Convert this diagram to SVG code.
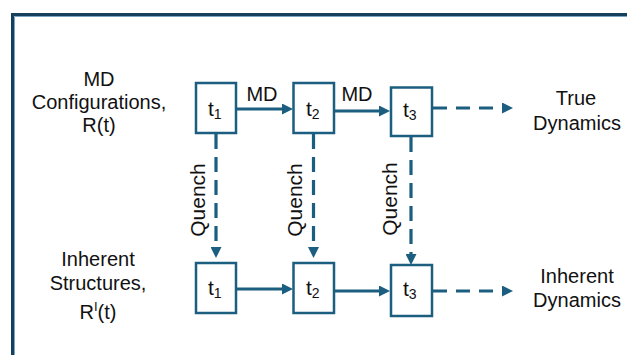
<svg xmlns="http://www.w3.org/2000/svg" width="627" height="355" viewBox="0 0 627 355">
<style>
text{font-family:"Liberation Sans",Arial,sans-serif;fill:#111;font-size:20px}
.lbl{text-anchor:middle}
.q{font-size:21px}
.box rect{fill:#fff;stroke:#1b5e7f;stroke-width:2.5}
.box text{font-size:21px}
.sub{font-size:13px}
.box .sub{font-size:14px}
.ln{stroke:#1b5e7f;stroke-width:3.2;fill:none}
.dash{stroke-dasharray:14 9}
.vdash{stroke-dasharray:15 8}
</style>
<defs>
<marker id="ah" markerUnits="userSpaceOnUse" markerWidth="11" markerHeight="11" refX="1" refY="5.5" orient="auto">
<path d="M0,0 L11,5.5 L0,11 z" fill="#1b5e7f"/>
</marker>
</defs>
<g id="frame">
<path d="M12.5,355 V14.5 H627" fill="none" stroke="#15405c" stroke-width="3"/>
<path d="M14.5,355 V16.5 H627" fill="none" stroke="#7aa6c2" stroke-width="1"/>
</g>
<g id="row-labels">
<text class="lbl" x="99" y="86">MD</text>
<text class="lbl" x="99" y="109">Configurations,</text>
<text class="lbl" x="99" y="132">R(t)</text>
<text class="lbl" x="98" y="266">Inherent</text>
<text class="lbl" x="98" y="290">Structures,</text>
<text class="lbl" x="98" y="319">R<tspan class="sub" dy="-8">I</tspan><tspan dy="8">(t)</tspan></text>
<text class="lbl" x="576" y="105">True</text>
<text class="lbl" x="577" y="130">Dynamics</text>
<text class="lbl" x="577" y="283">Inherent</text>
<text class="lbl" x="577" y="307">Dynamics</text>
</g>
<g id="connectors">
<line class="ln" x1="237" y1="109" x2="283" y2="109" marker-end="url(#ah)"/>
<line class="ln" x1="335" y1="111" x2="380" y2="111" marker-end="url(#ah)"/>
<line class="ln dash" x1="433" y1="108" x2="503" y2="108" marker-end="url(#ah)"/>
<line class="ln" x1="237" y1="289" x2="283" y2="289" marker-end="url(#ah)"/>
<line class="ln" x1="335" y1="291" x2="380" y2="291" marker-end="url(#ah)"/>
<line class="ln dash" x1="433" y1="291" x2="503" y2="291" marker-end="url(#ah)"/>
<line class="ln vdash" x1="216" y1="134" x2="216" y2="248" marker-end="url(#ah)"/>
<line class="ln vdash" x1="313.5" y1="134" x2="313.5" y2="248" marker-end="url(#ah)"/>
<line class="ln vdash" x1="411" y1="137" x2="411" y2="255" marker-end="url(#ah)"/>
<text x="262" y="101" class="lbl">MD</text>
<text x="357" y="101" class="lbl">MD</text>
<text class="lbl q" transform="translate(205,200) rotate(-90)">Quench</text>
<text class="lbl q" transform="translate(302,200) rotate(-90)">Quench</text>
<text class="lbl q" transform="translate(397,199) rotate(-90)">Quench</text>
</g>
<g id="t1-md" class="box">
<rect x="196" y="83" width="40" height="50"/>
<text x="208" y="116">t<tspan class="sub" dy="3">1</tspan></text>
</g>
<g id="t2-md" class="box">
<rect x="293.5" y="83" width="40.5" height="50"/>
<text x="306" y="116">t<tspan class="sub" dy="3">2</tspan></text>
</g>
<g id="t3-md" class="box">
<rect x="391" y="87.5" width="41" height="48.5"/>
<text x="403" y="117">t<tspan class="sub" dy="3">3</tspan></text>
</g>
<g id="t1-is" class="box">
<rect x="196" y="263" width="40" height="50"/>
<text x="208" y="295">t<tspan class="sub" dy="3">1</tspan></text>
</g>
<g id="t2-is" class="box">
<rect x="293.5" y="263" width="40.5" height="50"/>
<text x="306" y="295">t<tspan class="sub" dy="3">2</tspan></text>
</g>
<g id="t3-is" class="box">
<rect x="391" y="265" width="41" height="51"/>
<text x="403" y="296">t<tspan class="sub" dy="3">3</tspan></text>
</g>
</svg>
